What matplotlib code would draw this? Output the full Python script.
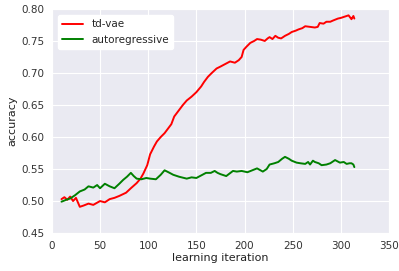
import matplotlib
matplotlib.use("Agg")
import matplotlib.pyplot as plt
import seaborn as sns

# -----------------------------------------
# Data
# -----------------------------------------
tdvae_iter = [10, 13, 16, 19, 22, 25, 29, 33, 38, 43, 50, 55, 60, 65, 70, 77,
              82, 88, 92, 95, 99, 102, 106, 109, 113, 117, 121, 124, 127, 131,
              136, 140, 145, 150, 155, 158, 162, 166, 171, 175, 180, 185, 190,
              194, 197, 199, 202, 206, 210, 213, 217, 221, 224, 226, 229, 232,
              235, 238, 242, 246, 249, 253, 256, 260, 263, 268, 273, 276, 278,
              282, 285, 289, 292, 297, 300, 304, 308, 310, 311, 313, 314]
tdvae_acc = [0.503, 0.506, 0.502, 0.507, 0.500, 0.505, 0.491, 0.493, 0.496,
             0.494, 0.500, 0.498, 0.503, 0.505, 0.508, 0.513, 0.520, 0.528,
             0.535, 0.543, 0.556, 0.573, 0.585, 0.593, 0.600, 0.606, 0.614,
             0.620, 0.632, 0.640, 0.650, 0.657, 0.663, 0.670, 0.679, 0.686,
             0.694, 0.700, 0.707, 0.710, 0.714, 0.718, 0.716, 0.720, 0.725,
             0.736, 0.741, 0.747, 0.750, 0.753, 0.752, 0.750, 0.754, 0.756,
             0.753, 0.758, 0.755, 0.754, 0.758, 0.761, 0.764, 0.766, 0.768,
             0.770, 0.773, 0.772, 0.771, 0.772, 0.778, 0.777, 0.780, 0.780,
             0.782, 0.785, 0.786, 0.788, 0.790, 0.786, 0.784, 0.789, 0.785]

ar_iter = [10, 15, 19, 24, 29, 34, 38, 43, 47, 50, 55, 60, 65, 70, 74, 78,
           82, 85, 88, 93, 98, 102, 108, 113, 117, 121, 126, 132, 140, 145,
           150, 155, 160, 165, 169, 172, 175, 181, 188, 192, 197, 203, 208,
           213, 219, 223, 226, 231, 235, 239, 242, 246, 249, 254, 258, 263,
           266, 268, 271, 273, 277, 280, 285, 289, 294, 299, 303, 306, 309,
           311, 313, 314]
ar_acc = [0.499, 0.502, 0.504, 0.509, 0.515, 0.518, 0.523, 0.521, 0.525,
          0.520, 0.527, 0.523, 0.520, 0.527, 0.533, 0.538, 0.544, 0.539,
          0.535, 0.534, 0.536, 0.535, 0.534, 0.541, 0.548, 0.545, 0.541,
          0.538, 0.535, 0.537, 0.536, 0.540, 0.544, 0.544, 0.547, 0.544,
          0.542, 0.539, 0.547, 0.546, 0.547, 0.545, 0.548, 0.551, 0.546,
          0.550, 0.557, 0.559, 0.561, 0.566, 0.569, 0.566, 0.563, 0.560,
          0.559, 0.558, 0.561, 0.557, 0.563, 0.561, 0.559, 0.556, 0.557,
          0.559, 0.564, 0.560, 0.561, 0.558, 0.559, 0.559, 0.557, 0.553]

# -----------------------------------------
# Plot
# -----------------------------------------
sns.set_style("darkgrid")
plt.rcParams["font.size"] = 8

fig = plt.figure(figsize=(3.99, 2.71), dpi=100)
ax = fig.add_axes([0.130, 0.140, 0.845, 0.827])

ax.plot(tdvae_iter, tdvae_acc, color="red", linewidth=1.4, label="td-vae")
ax.plot(ar_iter, ar_acc, color="green", linewidth=1.4, label="autoregressive")

ax.set_xlim(0, 350)
ax.set_ylim(0.45, 0.80)
ax.set_xticks(range(0, 351, 50))
ax.set_yticks([0.45, 0.50, 0.55, 0.60, 0.65, 0.70, 0.75, 0.80])
ax.tick_params(labelsize=7.5, colors="#333333", pad=2)
ax.set_xlabel("learning iteration", fontsize=8, color="#222222", labelpad=2)
ax.set_ylabel("accuracy", fontsize=8, color="#222222", labelpad=3)

leg = ax.legend(loc="upper left", frameon=True, facecolor="white",
                edgecolor="white", framealpha=1, fontsize=7.5,
                borderaxespad=0.6)

fig.savefig("out.png", dpi=100)
